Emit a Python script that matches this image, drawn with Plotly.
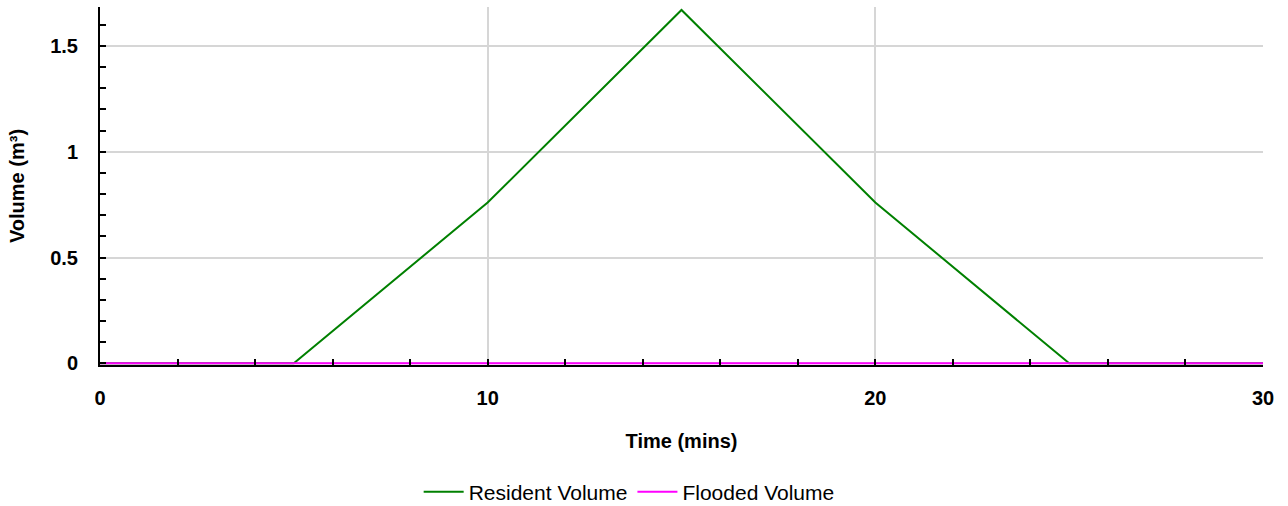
import plotly.graph_objects as go

# Time series sampled every 5 minutes
time_mins = [0, 5, 10, 15, 20, 25, 30]
resident_volume = [0, 0, 0.76, 1.67, 0.76, 0, 0]
flooded_volume = [0, 0, 0, 0, 0, 0, 0]

font_family = "Liberation Sans, Arial, sans-serif"

fig = go.Figure()
fig.add_trace(go.Scatter(
    x=time_mins, y=resident_volume, mode="lines", name="Resident Volume",
    line=dict(color="#008000", width=2),
))
fig.add_trace(go.Scatter(
    x=time_mins, y=flooded_volume, mode="lines", name="Flooded Volume",
    line=dict(color="#ff00ff", width=2),
))

axis_common = dict(
    showline=True, linecolor="black", linewidth=2,
    showgrid=True, gridcolor="#d6d6d6", gridwidth=2,
    zeroline=False,
    ticks="inside", ticklen=6, tickwidth=2, tickcolor="black",
    tickfont=dict(family=font_family, size=20, color="black", weight="bold"),
)

fig.update_layout(
    width=1288, height=506,
    margin=dict(l=100, r=25, t=7, b=141, autoexpand=False),
    paper_bgcolor="white", plot_bgcolor="white",
    font=dict(family=font_family, color="black"),
    xaxis=dict(
        **axis_common,
        range=[0, 30], dtick=10, tick0=0,
        ticklabelstandoff=14,
        minor=dict(dtick=2, ticks="inside", ticklen=6, tickwidth=2, tickcolor="black", showgrid=False),
        title=dict(text="Time (mins)", font=dict(size=20, weight="bold"), standoff=26),
    ),
    yaxis=dict(
        **axis_common,
        range=[-0.008, 1.684], dtick=0.5, tick0=0,
        ticklabelstandoff=16,
        minor=dict(dtick=0.1, ticks="inside", ticklen=6, tickwidth=2, tickcolor="black", showgrid=False),
        title=dict(text="Volume (m³)", font=dict(size=20, weight="bold"), standoff=20),
    ),
    legend=dict(
        orientation="h", x=0.455, xanchor="center", y=-0.355, yanchor="middle",
        font=dict(size=21, family=font_family), itemwidth=40,
    ),
    showlegend=True,
)

fig.write_html("out.html")
